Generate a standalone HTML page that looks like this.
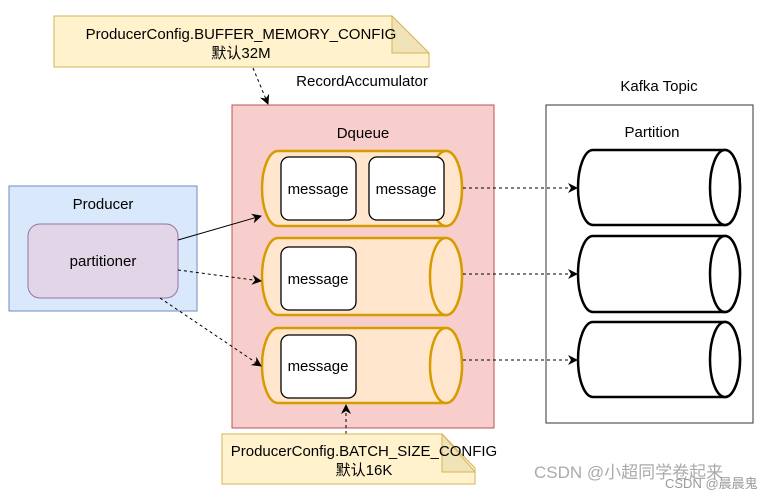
<!DOCTYPE html>
<html><head><meta charset="utf-8"><style>body{margin:0;background:#fff}svg{display:block}text{font-family:"Liberation Sans","Noto Sans CJK SC",sans-serif;font-size:15px;fill:#000}</style></head><body>
<svg width="780" height="499" viewBox="0 0 780 499" xmlns="http://www.w3.org/2000/svg">
<defs><marker id="a" markerWidth="10" markerHeight="10" refX="9" refY="5" orient="auto" markerUnits="userSpaceOnUse"><path d="M0,0 L10,5 L0,10 L3,5 Z" fill="#000"/></marker></defs>
<path d="M54,16 H392 L429,53 V67 H54 Z" fill="#fff2cc" stroke="#d6b656"/>
<path d="M392,16 V53 H429 Z" fill="#f0e3b8" stroke="#d6b656"/>
<text x="241" y="39" text-anchor="middle">ProducerConfig.BUFFER_MEMORY_CONFIG</text>
<text x="241" y="58" text-anchor="middle">默认32M</text>
<text x="362" y="86" text-anchor="middle">RecordAccumulator</text>
<line x1="253" y1="68" x2="268" y2="104" stroke="#000" stroke-dasharray="3,3" marker-end="url(#a)"/>
<rect x="232" y="105" width="262" height="323" fill="#f8cecc" stroke="#b85450"/>
<text x="363" y="138" text-anchor="middle">Dqueue</text>
<g fill="#ffe6cc" stroke="#d79b00" stroke-width="2.5">
<path d="M278,151 H446 A16,37.5 0 0 1 446,226 H278 A16,37.5 0 0 1 278,151 Z"/><ellipse cx="446" cy="188.5" rx="16" ry="37.5"/>
<path d="M278,238 H446 A16,38.5 0 0 1 446,315 H278 A16,38.5 0 0 1 278,238 Z"/><ellipse cx="446" cy="276.5" rx="16" ry="38.5"/>
<path d="M278,328 H446 A16,37.5 0 0 1 446,403 H278 A16,37.5 0 0 1 278,328 Z"/><ellipse cx="446" cy="365.5" rx="16" ry="37.5"/>
</g>
<g fill="#fff" stroke="#000" stroke-width="1.3">
<rect x="281" y="157" width="75" height="63" rx="8"/><rect x="369" y="157" width="75" height="63" rx="8"/>
<rect x="281" y="247" width="75" height="63" rx="8"/><rect x="281" y="335" width="75" height="63" rx="8"/>
</g>
<text x="318" y="194" text-anchor="middle">message</text><text x="406" y="194" text-anchor="middle">message</text>
<text x="318" y="284" text-anchor="middle">message</text><text x="318" y="371" text-anchor="middle">message</text>
<rect x="9" y="186" width="188" height="125" fill="#dae8fc" stroke="#6c8ebf"/>
<text x="103" y="209" text-anchor="middle">Producer</text>
<rect x="28" y="224" width="150" height="74" rx="12" fill="#e1d5e7" stroke="#9673a6"/>
<text x="103" y="266" text-anchor="middle">partitioner</text>
<line x1="178" y1="240" x2="261" y2="216" stroke="#000" marker-end="url(#a)"/>
<line x1="178" y1="270" x2="261" y2="281" stroke="#000" stroke-dasharray="3,3" marker-end="url(#a)"/>
<line x1="160" y1="298" x2="261" y2="366" stroke="#000" stroke-dasharray="3,3" marker-end="url(#a)"/>
<text x="659" y="91" text-anchor="middle">Kafka Topic</text>
<rect x="546" y="105" width="207" height="318" fill="#fff" stroke="#333"/>
<text x="652" y="137" text-anchor="middle">Partition</text>
<g fill="#fff" stroke="#000" stroke-width="2.5">
<path d="M593,150 H725 A15,37.5 0 0 1 725,225 H593 A15,37.5 0 0 1 593,150 Z"/><ellipse cx="725" cy="187.5" rx="15" ry="37.5"/>
<path d="M593,236 H725 A15,38 0 0 1 725,312 H593 A15,38 0 0 1 593,236 Z"/><ellipse cx="725" cy="274" rx="15" ry="38"/>
<path d="M593,322 H725 A15,37.5 0 0 1 725,397 H593 A15,37.5 0 0 1 593,322 Z"/><ellipse cx="725" cy="359.5" rx="15" ry="37.5"/>
</g>
<g stroke="#000" stroke-dasharray="3,3">
<line x1="463" y1="188" x2="577" y2="188" marker-end="url(#a)"/>
<line x1="463" y1="274" x2="577" y2="274" marker-end="url(#a)"/>
<line x1="463" y1="360" x2="577" y2="360" marker-end="url(#a)"/>
<line x1="346" y1="434" x2="346" y2="405" marker-end="url(#a)"/>
</g>
<path d="M222,434 H442 L475,468 V484 H222 Z" fill="#fff2cc" stroke="#d6b656"/>
<path d="M442,434 V472 H475 Z" fill="#f0e3b8" stroke="#d6b656"/>
<text x="364" y="456" text-anchor="middle">ProducerConfig.BATCH_SIZE_CONFIG</text>
<text x="364" y="475" text-anchor="middle">默认16K</text>
<text x="534" y="478" style="fill:#aaa;font-size:17px">CSDN @小超同学卷起来</text>
<text x="665" y="488" style="fill:#999;font-size:13px">CSDN @晨晨鬼</text>
</svg>
</body></html>
